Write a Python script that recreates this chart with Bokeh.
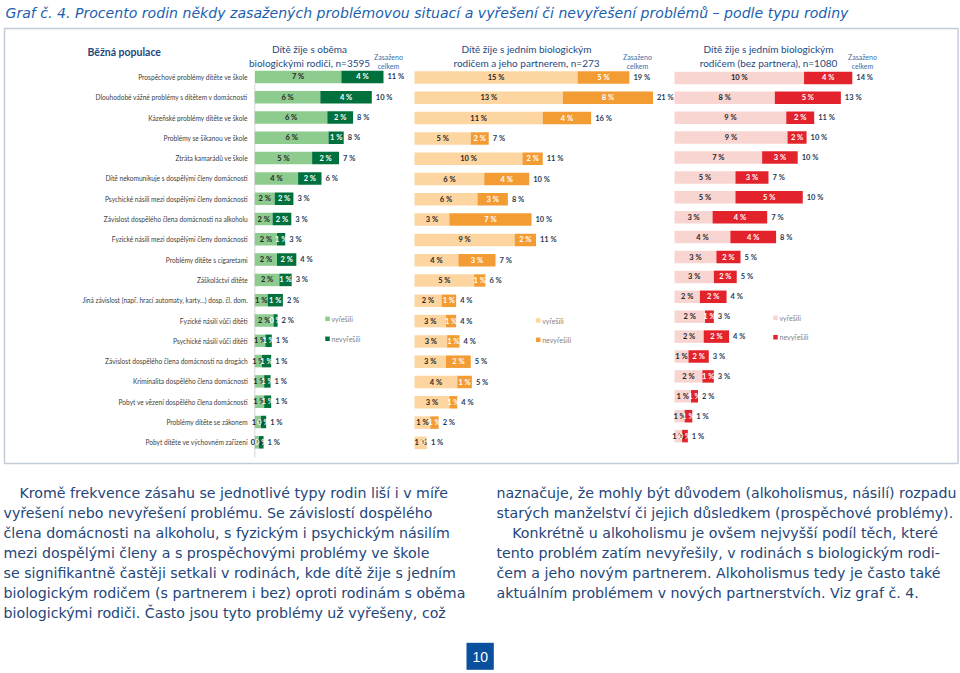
import math
from bokeh.plotting import figure
from bokeh.models import Range1d, ColumnDataSource, BoxAnnotation
from bokeh.core.properties import value
from bokeh.embed import file_html
from bokeh.resources import INLINE

# ---------------- data ----------------
categories = [
    "Prospěchové problémy dítěte ve škole",
    "Dlouhodobé vážné problémy s dítětem v domácnosti",
    "Kázeňské problémy dítěte ve škole",
    "Problémy se šikanou ve škole",
    "Ztráta kamarádů ve škole",
    "Dítě nekomunikuje s dospělými členy domácnosti",
    "Psychické násilí mezi dospělými členy domácnosti",
    "Závislost dospělého člena domácnosti na alkoholu",
    "Fyzické násilí mezi dospělými členy domácnosti",
    "Problémy dítěte s cigaretami",
    "Záškoláctví dítěte",
    "Jiná závislost (např. hrací automaty, karty...) dosp. čl. dom.",
    "Fyzické násilí vůči dítěti",
    "Psychické násilí vůči dítěti",
    "Závislost dospělého člena domácnosti na drogách",
    "Kriminalita dospělého člena domácnosti",
    "Pobyt ve vězení dospělého člena domácnosti",
    "Problémy dítěte se zákonem",
    "Pobyt dítěte ve výchovném zařízení",
]

# Dítě žije s oběma biologickými rodiči (n=3595)
both_solved = [7.4, 5.6, 6.2, 6.3, 4.9, 3.7, 1.7, 1.52, 1.9, 1.9, 2.1, 1.1, 1.6, 0.9, 0.6, 0.8, 0.8, 0.52, 0.35]
both_unsolved = [3.6, 4.4, 2.2, 1.3, 2.3, 2.0, 1.6, 1.6, 0.7, 1.65, 1.05, 1.3, 0.35, 0.55, 0.8, 0.55, 0.6, 0.45, 0.4]

# Dítě žije s jedním biologickým rodičem a jeho partnerem (n=273)
partner_solved = [14.5, 13.2, 11.4, 5.0, 9.6, 6.2, 5.6, 3.1, 8.9, 3.9, 5.3, 2.4, 2.8, 2.9, 2.8, 3.8, 3.1, 1.4, 1.1]
partner_unsolved = [4.6, 8.0, 4.3, 1.6, 1.8, 4.0, 2.7, 7.3, 1.9, 3.3, 1.0, 1.3, 0.9, 1.1, 2.2, 1.3, 0.7, 0.75, 0.0]

# Dítě žije s jedním biologickým rodičem (bez partnera) (n=1080)
single_solved = [10.2, 7.9, 8.8, 8.9, 6.9, 4.8, 4.8, 3.0, 4.4, 3.3, 3.1, 2.0, 2.4, 2.3, 1.1, 2.2, 1.3, 0.8, 0.6]
single_unsolved = [3.8, 5.2, 2.2, 1.5, 2.8, 2.6, 5.3, 4.3, 3.6, 1.9, 1.8, 2.1, 0.7, 2.0, 1.6, 0.9, 0.55, 0.6, 0.45]

panel_titles = [
    ("Dítě žije s oběma", "biologickými rodiči, n=3595"),
    ("Dítě žije s jedním biologickým", "rodičem a jeho partnerem, n=273"),
    ("Dítě žije s jedním biologickým", "rodičem (bez partnera), n=1080"),
]
total_header = ["Zasaženo", "celkem"]
legend_labels = ["vyřešili", "nevyřešili"]
group_label = "Běžná populace"
title_text = ("Graf č. 4. Procento rodin někdy zasažených problémovou situací "
              "a vyřešení či nevyřešení problémů – podle typu rodiny")
left_par = [
    "Kromě frekvence zásahu se jednotlivé typy rodin liší i v míře",
    "vyřešení nebo nevyřešení problému. Se závislostí dospělého",
    "člena domácnosti na alkoholu, s fyzickým i psychickým násilím",
    "mezi dospělými členy a s prospěchovými problémy ve škole",
    "se signifikantně častěji setkali v rodinách, kde dítě žije s jedním",
    "biologickým rodičem (s partnerem i bez) oproti rodinám s oběma",
    "biologickými rodiči. Často jsou tyto problémy už vyřešeny, což",
]
right_par = [
    "naznačuje, že mohly být důvodem (alkoholismus, násilí) rozpadu",
    "starých manželství či jejich důsledkem (prospěchové problémy).",
    "Konkrétně u alkoholismu je ovšem nejvyšší podíl těch, které",
    "tento problém zatím nevyřešily, v rodinách s biologickým rodi-",
    "čem a jeho novým partnerem. Alkoholismus tedy je často také",
    "aktuálním problémem v nových partnerstvích. Viz graf č. 4.",
]
page_number = "10"


def pct(v):
    return f"{int(math.floor(v + 0.5 + 1e-9))} %"


# ---------------- page canvas ----------------
W, H = 960, 673
X0, X1 = 0.0, 960.0
Y0, Y1 = 0.0, 673.0


def Y(v):
    return -v


p = figure(width=W, height=H, x_range=Range1d(X0, X1), y_range=Range1d(-Y1, -Y0),
           output_backend="svg", toolbar_location=None,
           x_axis_location=None, y_axis_location=None,
           min_border=0, outline_line_color=None)
p.background_fill_color = "white"
p.border_fill_color = "white"
p.xgrid.visible = False
p.ygrid.visible = False

LATO = value("Lato")
BODY = value("DejaVu Sans")

# outer box
p.add_layout(BoxAnnotation(left=4, right=957.5, top=Y(28), bottom=Y(463),
                           fill_alpha=0, line_color="#36557f", line_width=1.5))

# title
p.text(x=[5], y=[Y(12)], text=[title_text], text_font=BODY, text_font_size="14.1px",
       text_font_style="italic", text_color="#1d5fae", text_baseline="middle")

p.text(x=[87], y=[Y(51.7)], text=[group_label], text_font=LATO, text_font_size="10.5px",
       text_font_style="bold", text_color="#1f497d", text_baseline="middle")

layout = [
    dict(s=both_solved, u=both_unsolved, origin=254.3, k=11.7, yc0=76.4, dy=20.3,
         light="#8dcb8f", dark="#00703c", hx=309, zx=388, legx=327, legy=(318.3, 338.3)),
    dict(s=partner_solved, u=partner_unsolved, origin=414.0, k=11.25, yc0=77.0, dy=20.3,
         light="#fdd5a0", dark="#f39c34", hx=526, zx=637, legx=537.7, legy=(320, 339.3)),
    dict(s=single_solved, u=single_unsolved, origin=674.0, k=12.7, yc0=77.4, dy=19.9,
         light="#f9d5d2", dark="#e3232b", hx=768, zx=862, legx=775, legy=(317.3, 336.7)),
]

n = len(categories)
for j, L in enumerate(layout):
    xn, yn = f"x{j}", f"y{j}"
    p.extra_x_ranges[xn] = Range1d((X0 - L["origin"]) / L["k"], (X1 - L["origin"]) / L["k"])
    p.extra_y_ranges[yn] = Range1d(-(Y1 - L["yc0"]) / L["dy"], -(Y0 - L["yc0"]) / L["dy"])
    s, u = L["s"], L["u"]
    tot = [a + b for a, b in zip(s, u)]
    src = ColumnDataSource(dict(
        y=[-i for i in range(n)], cat=categories, solved=s, unsolved=u, total=tot,
        mid_s=[a / 2 for a in s], mid_u=[a + b / 2 for a, b in zip(s, u)],
        lab_s=[pct(a) for a in s], lab_u=[pct(b) for b in u], lab_t=[pct(t) for t in tot],
    ))
    bh = 12.5 / L["dy"]
    kw = dict(source=src, x_range_name=xn, y_range_name=yn)
    if j == 0:
        p.segment(x0=[0], y0=[-0.33], x1=[0], y1=[-18.75], line_color="#d4d4d4",
                  line_width=1, x_range_name=xn, y_range_name=yn)
    p.hbar(y="y", left=0, right="solved", height=bh, fill_color=L["light"], line_color=None, **kw)
    p.hbar(y="y", left="solved", right="total", height=bh, fill_color=L["dark"], line_color=None, **kw)
    p.text(x="mid_s", y="y", text="lab_s", text_align="center", text_baseline="middle",
           text_font=LATO, text_font_size="7.5px", text_font_style="bold", text_color="#262626", **kw)
    p.text(x="mid_u", y="y", text="lab_u", text_align="center", text_baseline="middle",
           text_font=LATO, text_font_size="7.5px", text_font_style="bold", text_color="white", **kw)
    p.text(x="total", y="y", text="lab_t", x_offset=4, text_align="left", text_baseline="middle",
           text_font=LATO, text_font_size="7.5px", text_font_style="bold", text_color="#1f3b5a", **kw)
    if j == 0:
        p.text(x=0, y="y", text="cat", x_offset=-7, text_align="right", text_baseline="middle",
               text_font=LATO, text_font_size="6.6px", text_color="#404040", **kw)

    # header
    p.text(x=[L["hx"], L["hx"]], y=[Y(48.5), Y(62.5)], text=list(panel_titles[j]),
           text_align="center", text_baseline="middle", text_font=LATO,
           text_font_size="10px", text_color="#1f497d")
    p.text(x=[L["zx"], L["zx"]], y=[Y(56), Y(65.5)], text=total_header,
           text_align="center", text_baseline="middle", text_font=LATO,
           text_font_size="7px", text_color="#3b6ea8")
    # legend
    p.scatter(x=[L["legx"], L["legx"]], y=[Y(L["legy"][0]), Y(L["legy"][1])], marker="square",
              size=4.5, fill_color=[L["light"], L["dark"]], line_color=None)
    p.text(x=[L["legx"] + 4, L["legx"] + 4], y=[Y(L["legy"][0]), Y(L["legy"][1])],
           text=legend_labels, text_baseline="middle", text_font=LATO,
           text_font_size="7px", text_color="#7f7f7f")

# paragraphs
lx = [19] + [3] * (len(left_par) - 1)
ly = [Y(492.7 + 20 * i) for i in range(len(left_par))]
p.text(x=lx, y=ly, text=left_par, text_baseline="middle", text_font=BODY,
       text_font_size="14.2px", text_color="#24467a")
rx = [496, 496, 511.7, 496, 496, 496]
ry = [Y(492.7 + 20 * i) for i in range(len(right_par))]
p.text(x=rx, y=ry, text=right_par, text_baseline="middle", text_font=BODY,
       text_font_size="14.2px", text_color="#24467a")

# page number
p.quad(left=[466], right=[493.3], top=[Y(642.3)], bottom=[Y(669.3)],
       fill_color="#0b4f9f", line_color=None)
p.text(x=[479.7], y=[Y(656)], text=[page_number], text_align="center", text_baseline="middle",
       text_font=value("Liberation Sans"), text_font_size="14px", text_color="white")

open("out.html", "w").write(file_html(p, INLINE))
